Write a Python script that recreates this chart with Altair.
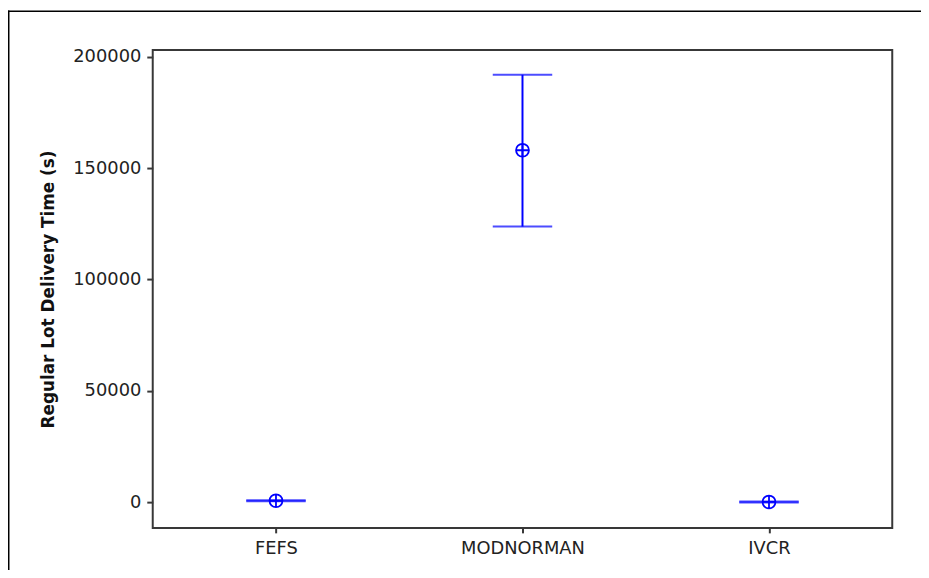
import altair as alt
import pandas as pd

# Data
categories = ["FEFS", "MODNORMAN", "IVCR"]
means = [600, 158100, 50]
lower = [400, 123800, -150]
upper = [800, 192000, 250]
y_ticks = [0, 50000, 100000, 150000, 200000]

df = pd.DataFrame({"group": categories, "mean": means, "lower": lower, "upper": upper})
frame_df = pd.DataFrame({"k": [0]})

blue = "#0000FF"
axis_col = "#383838"

W, H = 746, 482

x_enc = alt.X(
    "group:N",
    sort=categories,
    scale=alt.Scale(type="point", padding=0.5),
    axis=alt.Axis(
        title=None, labelAngle=0, domain=False, ticks=True, tickSize=5,
        tickColor=axis_col, tickWidth=2, labelPadding=7, labelFontSize=18,
        labelFont="DejaVu Sans", labelColor="#222222",
    ),
)
y_scale = alt.Scale(domain=[-11600, 203100], nice=False, zero=False)
y_axis = alt.Axis(
    title="Regular Lot Delivery Time (s)", values=y_ticks, format="d", grid=False,
    domain=False, tickSize=6, tickColor=axis_col, tickWidth=2, labelPadding=6,
    labelFontSize=18, labelFont="DejaVu Sans", labelColor="#222222",
    titleFont="DejaVu Sans", titleFontSize=17, titleFontWeight="bold",
    titleColor="#111111", titleX=-96, titleY=H / 2, titleBaseline="bottom",
    titleAngle=270, titleAlign="center",
)

base = alt.Chart(df)

bars = base.mark_rule(color=blue, strokeWidth=2).encode(
    x=x_enc,
    y=alt.Y("lower:Q", scale=y_scale, axis=y_axis),
    y2="upper:Q",
)
cap_hi = base.mark_tick(color=blue, thickness=2, size=60, orient="horizontal").encode(
    x=alt.X("group:N", sort=categories), y=alt.Y("upper:Q")
)
cap_lo = base.mark_tick(color=blue, thickness=2, size=60, orient="horizontal").encode(
    x=alt.X("group:N", sort=categories), y=alt.Y("lower:Q")
)
marker_path = "M-1,0A1,1 0 1,1 1,0A1,1 0 1,1 -1,0ZM-1,0L1,0M0,-1L0,1"
points = base.mark_point(
    shape=marker_path, size=169, filled=False, stroke=blue, strokeWidth=1.8,
    opacity=1, fill="white", fillOpacity=0,
).encode(x=alt.X("group:N", sort=categories), y=alt.Y("mean:Q"))

# Outer picture border (left and top edges visible in the reference)
border_left = alt.Chart(frame_df).mark_rule(color="#000000", strokeWidth=1.5).encode(
    x=alt.value(-145.25), y=alt.value(-40), y2=alt.value(H + 60)
)
border_top = alt.Chart(frame_df).mark_rule(color="#000000", strokeWidth=1.5).encode(
    x=alt.value(-146), x2=alt.value(W + 40), y=alt.value(-39.25)
)

chart = (
    alt.layer(bars, cap_hi, cap_lo, points, border_left, border_top)
    .properties(
        width=W, height=H, autosize="none", background="white",
        padding={"left": 146, "top": 40, "right": 29, "bottom": 40},
    )
    .configure_view(stroke=axis_col, strokeWidth=2)
)

chart.save("out.html", embed_options={"renderer": "svg", "actions": False})
